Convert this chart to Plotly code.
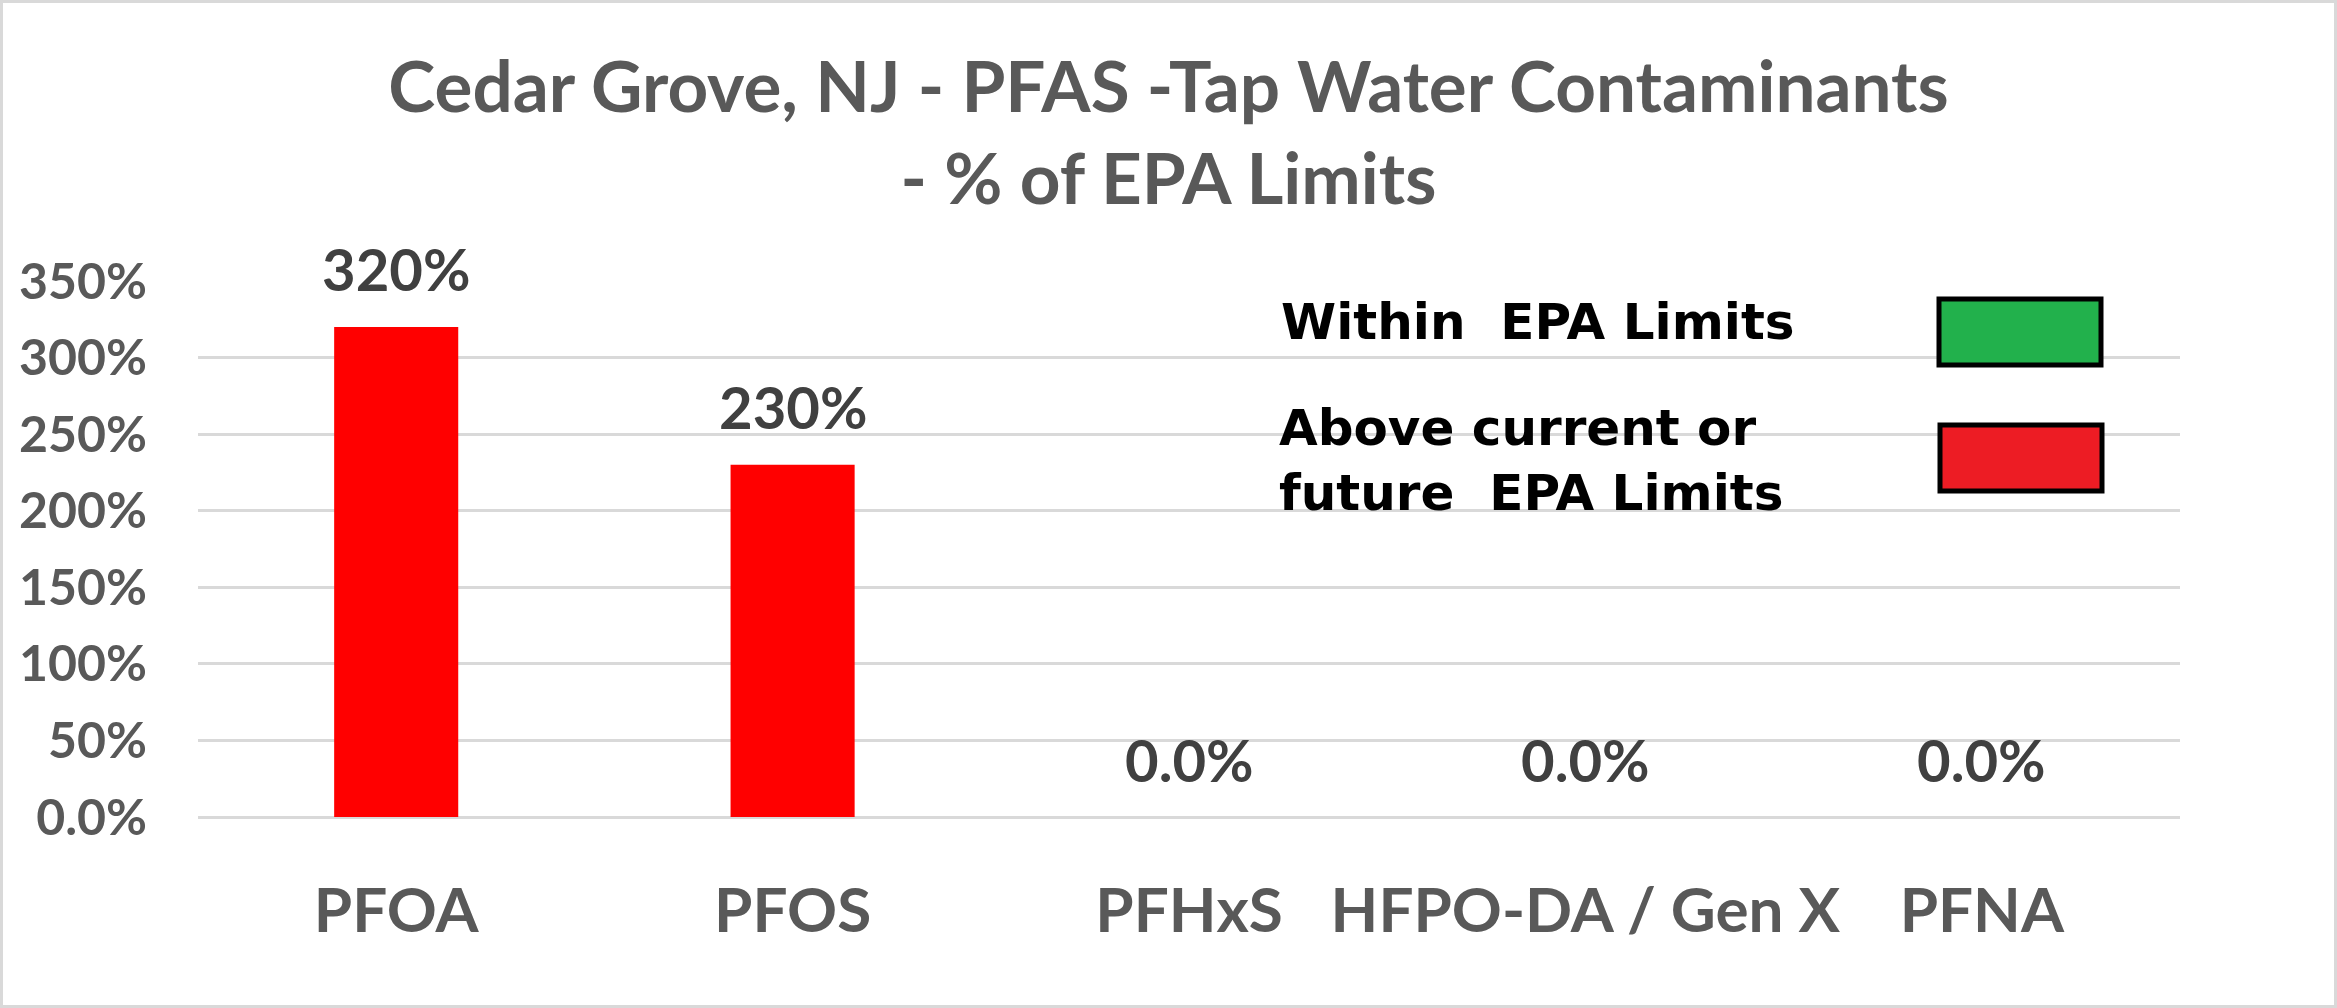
import plotly.graph_objects as go

# ---- data ----
categories = ["PFOA", "PFOS", "PFHxS", "HFPO-DA / Gen X", "PFNA"]
pct_of_limit = [320, 230, 0, 0, 0]
y_tick_vals = [0, 50, 100, 150, 200, 250, 300, 350]
y_tick_text = ["0.0%", "50%", "100%", "150%", "200%", "250%", "300%", "350%"]
legend_labels = ["Within\u00a0 EPA Limits", "Above current or<br>future\u00a0 EPA Limits"]
title_text = "Cedar Grove, NJ - PFAS -Tap Water Contaminants<br>- % of EPA Limits"


def fmt(v):
    return f"{v:.0f}%" if v else "0.0%"


W, H = 2337, 1008
L, R, T, B = 198, 2180, 281, 817
pw, ph = R - L, B - T


def px(x):
    return (x - L) / pw


def py(y):
    return (B - y) / ph


GRAY = "#595959"

fig = go.Figure()
fig.add_trace(go.Bar(
    x=categories, y=pct_of_limit,
    marker=dict(color="#FF0000", line=dict(width=0)),
    hoverinfo="skip", showlegend=False,
))

annotations = []
for c, v in zip(categories, pct_of_limit):
    annotations.append(dict(
        x=c, y=v, xref="x", yref="y", text=fmt(v), showarrow=False,
        yanchor="middle", yshift=58,
        font=dict(family="Lato", size=58, color="#404040", weight=700),
    ))

legend_font = dict(family="DejaVu Sans", size=50, color="#000000", weight=700)
annotations.append(dict(x=px(1279), y=py(322), xref="paper", yref="paper",
                        text=legend_labels[0], showarrow=False,
                        xanchor="left", yanchor="middle", font=legend_font))
annotations.append(dict(x=px(1277), y=py(460), xref="paper", yref="paper",
                        text=legend_labels[1], showarrow=False, align="left",
                        xanchor="left", yanchor="middle", font=legend_font))

shapes = [
    dict(type="rect", xref="paper", yref="paper",
         x0=px(1939), x1=px(2101), y0=py(365), y1=py(299),
         fillcolor="#22B14C", line=dict(color="#000000", width=5)),
    dict(type="rect", xref="paper", yref="paper",
         x0=px(1940), x1=px(2102), y0=py(491), y1=py(425),
         fillcolor="#ED1C24", line=dict(color="#000000", width=5)),
    dict(type="rect", xref="paper", yref="paper",
         x0=px(1.5), x1=px(W - 1.5), y0=py(H - 1.5), y1=py(1.5),
         fillcolor="rgba(0,0,0,0)", line=dict(color="#D9D9D9", width=3),
         layer="below"),
]

fig.update_layout(
    width=W, height=H,
    margin=dict(l=L, r=W - R, t=T, b=H - B, pad=0),
    paper_bgcolor="white", plot_bgcolor="white",
    bargap=0.687,
    title=dict(text=title_text, x=0.5, xref="container", xanchor="center",
               y=1 - 112 / H, yref="container", yanchor="top",
               font=dict(family="Lato", size=71, color=GRAY, weight=700)),
    xaxis=dict(
        tickfont=dict(family="Lato", size=62, color=GRAY, weight=700),
        tickangle=0, showgrid=False, showline=False, zeroline=False,
        ticks="", ticklabelstandoff=52,
    ),
    yaxis=dict(
        range=[0, 350], tickvals=y_tick_vals, ticktext=y_tick_text,
        tickfont=dict(family="Lato", size=50, color=GRAY, weight=700),
        showgrid=True, gridcolor="#D9D9D9", gridwidth=3,
        zeroline=True, zerolinecolor="#D9D9D9", zerolinewidth=3,
        showline=False, ticks="", ticklabelstandoff=50,
    ),
    annotations=annotations,
    shapes=shapes,
)

fig.write_html("out.html", config={"displayModeBar": False},
               post_script="document.body.style.margin='0';")
